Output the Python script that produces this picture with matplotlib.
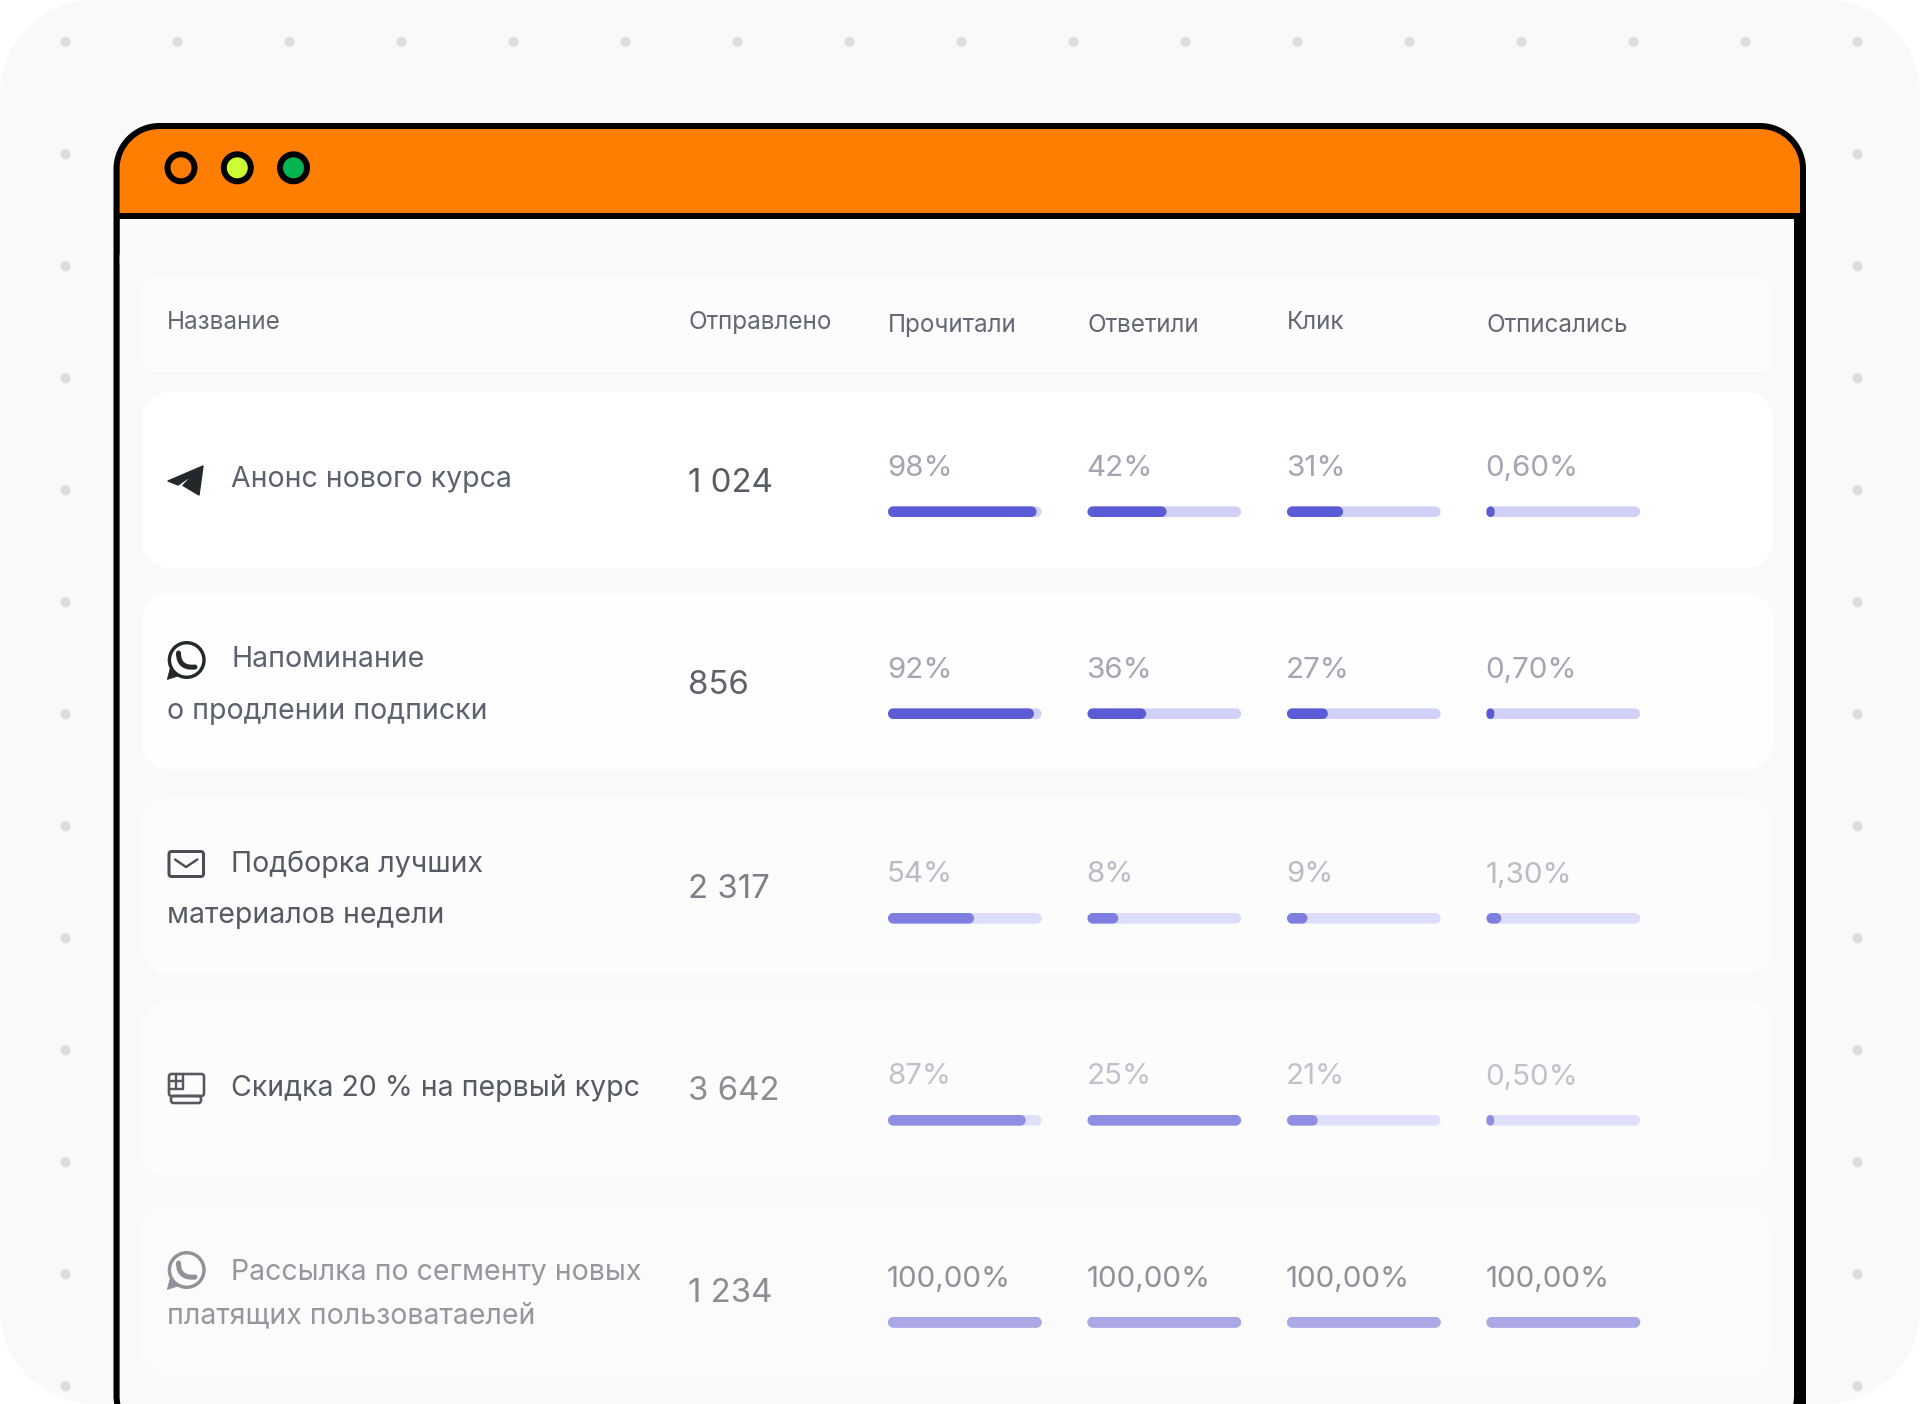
import matplotlib
matplotlib.use("Agg")
import matplotlib.pyplot as plt
from matplotlib.patches import Circle, Polygon, PathPatch, Rectangle
from matplotlib.path import Path

W, H = 1920, 1404
FONT = ['Inter', 'DejaVu Sans']

# ---- data -------------------------------------------------------------
columns = ["Название", "Отправлено", "Прочитали", "Ответили", "Клик", "Отписались"]
name_lines = [
    ["Анонс нового курса"],
    ["Напоминание", "о продлении подписки"],
    ["Подборка лучших", "материалов недели"],
    ["Скидка 20 % на первый курс"],
    ["Рассылка по сегменту новых", "платящих пользоватаелей"],
]
sent = ["1 024", "856", "2 317", "3 642", "1 234"]
read_lbl = ["98%", "92%", "54%", "87%", "100,00%"]
reply_lbl = ["42%", "36%", "8%", "25%", "100,00%"]
click_lbl = ["31%", "27%", "9%", "21%", "100,00%"]
unsub_lbl = ["0,60%", "0,70%", "1,30%", "0,50%", "100,00%"]
# drawn share of each progress track
read_fill = [0.967, 0.95, 0.56, 0.897, 1.0]
reply_fill = [0.515, 0.382, 0.20, 1.0, 1.0]
click_fill = [0.365, 0.266, 0.133, 0.20, 1.0]
unsub_fill = [0.053, 0.05, 0.096, 0.05, 1.0]

# ---- styles per row ----------------------------------------------------
row_top = [392, 593.5, 798, 1000.7, 1201.7]
row_face = ["#ffffff", "#fefefe", "#fcfcfc", "#fcfcfc", "#fbfbfb"]
name_col = ["#5d6270", "#5d6270", "#555a63", "#555a63", "#94979e"]
sent_col = ["#585c64", "#5e6269", "#7d8187", "#8a8e93", "#8a8e93"]
pct_col = ["#a3a6b1", "#a3a6b1", "#b9bcc5", "#c0c2cb", "#8e9197"]
fill_col = ["#5b5bd6", "#5b5bd6", "#7e7ee0", "#8e8ee3", "#aaa8e5"]
track_col = ["#d0d0f8", "#d0d0f8", "#dcdcfc", "#e0e0fd", "#aaa8e5"]
icon_col = ["#23282b", "#23282b", "#4a4e55", "#55595f", "#8f9398"]

NAME_PX, HEAD_PX, PCT_PX, SENT_PX = 28.45, 24.25, 29.6, 33
PT = 0.72
K = 0.5523

fig = plt.figure(figsize=(W / 100, H / 100), dpi=100, facecolor="white")
ax = fig.add_axes([0, 0, 1, 1])
ax.set_xlim(0, W)
ax.set_ylim(H, 0)
ax.axis("off")


def rpath(x0, y0, x1, y1, r):
    c = r * (1 - K)
    v = [(x0 + r, y0), (x1 - r, y0), (x1 - c, y0), (x1, y0 + c), (x1, y0 + r),
         (x1, y1 - r), (x1, y1 - c), (x1 - c, y1), (x1 - r, y1),
         (x0 + r, y1), (x0 + c, y1), (x0, y1 - c), (x0, y1 - r),
         (x0, y0 + r), (x0, y0 + c), (x0 + c, y0), (x0 + r, y0), (x0 + r, y0)]
    C = Path.CURVE4
    L = Path.LINETO
    codes = [Path.MOVETO, L, C, C, C, L, C, C, C, L, C, C, C, L, C, C, C, Path.CLOSEPOLY]
    return Path(v, codes)


def rrect(x0, y0, x1, y1, r, fc, z=1, ec="none", lw=0):
    p = PathPatch(rpath(x0, y0, x1, y1, r), fc=fc, ec=ec, lw=lw, zorder=z)
    ax.add_patch(p)
    return p


def label(x, y, s, px, color, va="center", z=6):
    ax.text(x, y, s, fontsize=px * PT, color=color, family=FONT, va=va, ha="left",
            zorder=z)


# page background and dots
rrect(0, 0, W, H, 95, "#f9f9f9", 1)
dot_x = [65.5 + 112 * i for i in range(17)]
dot_y = [154.3 + 112 * i for i in range(12)]
for x in dot_x:
    ax.add_patch(Circle((x, 42), 5, fc="#dcdde0", ec="none", zorder=2))
for y in dot_y:
    for x in (65.5, 1857.5):
        ax.add_patch(Circle((x, y), 5, fc="#dcdde0", ec="none", zorder=2))

# window
rrect(113.5, 123, 1806, 1442, 46, "#000000", 3)
rrect(119.6, 129, 1800, 300, 40, "#ff7d00", 3.2)
rrect(119.6, 218.7, 1794, 1436, 40, "#f9f9f9", 3.6)
ax.add_patch(Rectangle((119.6, 218.7), 1674.4, 60, fc="#f9f9f9", ec="none", zorder=3.6))
ax.add_patch(Rectangle((113.5, 212.7), 1692.5, 6, fc="#000000", ec="none", zorder=3.7))
ax.add_patch(Rectangle((1794, 212.7), 12, H - 212.7, fc="#000000", ec="none", zorder=3.7))

for cx, c in zip((181, 237.3, 293.5), ("#ff7d00", "#ccff33", "#03b552")):
    ax.add_patch(Circle((cx, 167.8), 13.5, fc=c, ec="#000000", lw=6 * PT, zorder=4))

# header
rrect(142, 277, 1773, 372.5, 16, "#fcfcfc", 4)
col_x = [167.0, 688, 888, 1087.6, 1287, 1486.6]
head_y = [322.2, 322.2, 325.7, 325.7, 322.2, 325.7]
for x, y, s in zip(col_x, head_y, columns):
    label(x, y, s, HEAD_PX, "#636873")


# icons
def stroke(pts, col, lw, z=7):
    ax.plot([p[0] for p in pts], [p[1] for p in pts], color=col, lw=lw * PT,
            solid_capstyle="round", solid_joinstyle="round", zorder=z)


def ic_telegram(cy, col):
    d = cy - 480
    ax.add_patch(Polygon([(168, 481 + d), (203, 466 + d), (199, 495 + d), (183, 485.5 + d),
                          (194, 474 + d), (178, 485 + d)], closed=True, fc=col, ec=col,
                         lw=1, joinstyle="round", zorder=7))


def ic_whatsapp(cy, col):
    ax.add_patch(Circle((186.7, cy), 17.3, fc="none", ec=col, lw=3.4 * PT, zorder=7))
    ax.add_patch(Polygon([(167.3, cy + 19.5), (170, cy + 9), (178, cy + 16)], closed=True,
                         fc=col, ec=col, lw=0.5, zorder=7))
    verts = [(178.5, cy - 7), (178.5, cy + 5), (186, cy + 8), (195, cy + 7)]
    ax.add_patch(PathPatch(Path(verts, [Path.MOVETO, Path.CURVE4, Path.CURVE4, Path.CURVE4]),
                           fc="none", ec=col, lw=5 * PT, capstyle="round", zorder=7))


def ic_mail(cy, col):
    rrect(169, cy - 12.5, 203.5, cy + 12.5, 2.5, "none", 7, ec=col, lw=3 * PT)
    stroke([(175, cy - 4.5), (186, cy + 3), (197.3, cy - 4.5)], col, 2.4)


def ic_card(cy, col):
    rrect(169, cy - 12, 204, cy + 10, 2.5, "none", 7, ec=col, lw=2.6 * PT)
    rrect(171, cy + 10, 201, cy + 17, 2.5, "none", 7, ec=col, lw=2.6 * PT)
    stroke([(183, cy - 12), (183, cy + 3), (169, cy + 3)], col, 2.4)
    stroke([(176, cy - 12), (176, cy + 3)], col, 2.4)
    stroke([(169, cy - 5), (183, cy - 5)], col, 2.4)


icons = [ic_telegram, ic_whatsapp, ic_mail, ic_card, ic_whatsapp]
icon_y = [480, 660, 864, 1086, 1270]

ROW_H = 176
name_y = [[479.8], [659.8, 711.2], [864.2, 915.4], [1088], [1271.8, 1315.6]]
pct_y = [468.7, 670.7, 875, 1077, 1279.5]
sent_y = [483, 685, 890, 1091.6, 1294]
track_y = [511.7, 713.7, 918.3, 1120.3, 1322.3]
bar_x = [888, 1087.5, 1287, 1486.5]
TRACK_W, TRACK_H = 153.6, 10.6

rows = zip(row_top, row_face, name_lines, name_y, sent, sent_y, sent_col, name_col, pct_col,
           pct_y, track_y, fill_col, track_col, icons, icon_y, icon_col)
for i, (top, face, lines, ny, s, sy, sc, nc, pc, py, ty, fc, tc, ic, iy, icc) in enumerate(rows):
    rrect(142, top, 1773, top + ROW_H, 26, face, 4)
    for j, (ln, yy) in enumerate(zip(lines, ny)):
        label(231 if j == 0 else 167.2, yy, ln, NAME_PX, nc)
    ic(iy, icc)
    label(col_x[1], sy, s, SENT_PX, sc)
    labs = [read_lbl[i], reply_lbl[i], click_lbl[i], unsub_lbl[i]]
    fills = [read_fill[i], reply_fill[i], click_fill[i], unsub_fill[i]]
    for x, lb, fr in zip(bar_x, labs, fills):
        label(x - 1, py, lb, PCT_PX, pc)
        rrect(x, ty - TRACK_H / 2, x + TRACK_W, ty + TRACK_H / 2, TRACK_H / 2, tc, 5)
        w = fr * TRACK_W
        rrect(x, ty - TRACK_H / 2, x + w, ty + TRACK_H / 2, min(TRACK_H / 2, w / 2), fc, 5.5)

fig.savefig("out.png", dpi=100, facecolor="white")
